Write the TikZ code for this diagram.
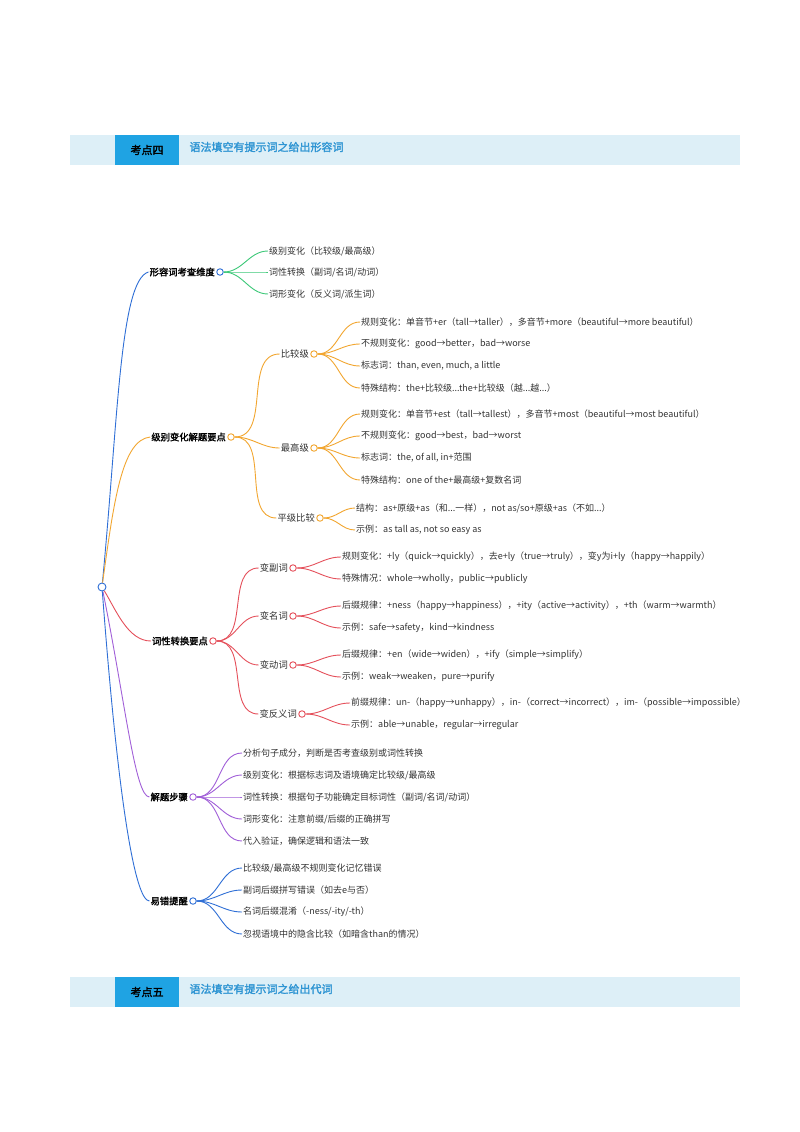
\documentclass[tikz,border=0pt]{standalone}
\usepackage{fontspec}
\setmainfont{Noto Sans CJK SC}
\newfontfamily\boldcjk[FakeBold=2]{Noto Sans CJK SC}
\definecolor{cGreen}{HTML}{3CC878}
\definecolor{cOrange}{HTML}{F2A630}
\definecolor{cRed}{HTML}{E5505B}
\definecolor{cPurple}{HTML}{A15FD8}
\definecolor{cBlue}{HTML}{2F6FD6}
\definecolor{barBg}{HTML}{DDEFF7}
\definecolor{tagBg}{HTML}{1FA3E3}
\definecolor{titleBlue}{HTML}{2F95D3}
\tikzset{
  txt/.style={anchor=west, inner sep=1pt, font=\fontsize{9}{10}\selectfont, text=black!80},
  head/.style={anchor=east, inner sep=1pt, font=\fontsize{9.3}{10}\selectfont, text=black!80},
  main/.style={anchor=east, inner sep=1pt, font=\fontsize{9.3}{10}\boldcjk, text=black},
  knot/.style={circle, draw, fill=white, line width=0.9pt, inner sep=0pt, minimum size=6.5pt},
  br/.style={line width=0.9pt}
}
\begin{document}
\begin{tikzpicture}[x=1pt, y=-1pt]
		\useasboundingbox[fill=white] (0,0) rectangle (800,1132);
		
		% Barras de título
		\fill[barBg] (70,135) rectangle (740,165);
		\node[fill=tagBg, minimum width=64pt, minimum height=30pt, inner sep=0pt, font=\fontsize{11}{12}\boldcjk] (tag4) at (147,150) {考点四};
		\node[anchor=west, text=titleBlue, font=\fontsize{11}{12}\boldcjk] (title4) at (186,147) {语法填空有提示词之给出形容词};
		\fill[barBg] (70,977) rectangle (740,1007);
		\node[fill=tagBg, minimum width=64pt, minimum height=30pt, inner sep=0pt, font=\fontsize{11}{12}\boldcjk] (tag5) at (147,992) {考点五};
		\node[anchor=west, text=titleBlue, font=\fontsize{11}{12}\boldcjk] (title5) at (186,989) {语法填空有提示词之给出代词};
		
		% Raiz
		\node[knot, draw=cBlue, minimum size=8pt] (root) at (102,587) {};
		
		% Nível 1
		\node[knot, draw=cBlue] (dim) at (220,272) {};
		\node[main] (dimT) at (216,272) {形容词考查维度};
		\node[knot, draw=cOrange] (deg) at (231,437) {};
		\node[main] (degT) at (227,437) {级别变化解题要点};
		\node[knot, draw=cRed] (pos) at (213,641) {};
		\node[main] (posT) at (209,641) {词性转换要点};
		\node[knot, draw=cPurple] (step) at (193,797) {};
		\node[main] (stepT) at (189,797) {解题步骤};
		\node[knot, draw=cBlue] (err) at (193,901) {};
		\node[main] (errT) at (189,901) {易错提醒};
		
		\draw[br, cBlue] (root) .. controls (118,420) and (120,280) .. (dimT.west);
		\draw[br, cOrange] (root) .. controls (114,500) and (122,440) .. (degT.west);
		\draw[br, cRed] (root) .. controls (116,610) and (128,641) .. (posT.west);
		\draw[br, cPurple] (root) .. controls (125,700) and (135,797) .. (stepT.west);
		\draw[br, cBlue] (root) .. controls (118,800) and (135,901) .. (errT.west);
		
		% Dimensões
		\node[txt] (d1) at (268,251) {级别变化（比较级/最高级）};
		\node[txt] (d2) at (268,272) {词性转换（副词/名词/动词）};
		\node[txt] (d3) at (268,294) {词形变化（反义词/派生词）};
		\foreach \n in {d1,d2,d3} \draw[br, cGreen] (dim.east) to[out=0,in=180] (\n.west);
		
		% Nível 2 — graus
		\node[knot, draw=cOrange] (cmp) at (314,354) {};
		\node[head] (cmpT) at (310,354) {比较级};
		\node[knot, draw=cOrange] (sup) at (314,448) {};
		\node[head] (supT) at (310,448) {最高级};
		\node[knot, draw=cOrange] (eq) at (320,518) {};
		\node[head] (eqT) at (316,518) {平级比较};
		\foreach \n in {cmpT,supT,eqT} \draw[br, cOrange] (deg.east) to[out=0,in=180] (\n.west);
		
		\node[txt] (c1) at (360,322) {规则变化：单音节+er（tall→taller），多音节+more（beautiful→more beautiful）};
		\node[txt] (c2) at (360,344) {不规则变化：good→better，bad→worse};
		\node[txt] (c3) at (360,366) {标志词：than, even, much, a little};
		\node[txt] (c4) at (360,388) {特殊结构：the+比较级...the+比较级（越...越...）};
		\foreach \n in {c1,c2,c3,c4} \draw[br, cOrange] (cmp.east) to[out=0,in=180] (\n.west);
		
		\node[txt] (s1) at (360,414) {规则变化：单音节+est（tall→tallest），多音节+most（beautiful→most beautiful）};
		\node[txt] (s2) at (360,436) {不规则变化：good→best，bad→worst};
		\node[txt] (s3) at (360,458) {标志词：the, of all, in+范围};
		\node[txt] (s4) at (360,480) {特殊结构：one of the+最高级+复数名词};
		\foreach \n in {s1,s2,s3,s4} \draw[br, cOrange] (sup.east) to[out=0,in=180] (\n.west);
		
		\node[txt] (e1) at (355,508) {结构：as+原级+as（和...一样），not as/so+原级+as（不如...）};
		\node[txt] (e2) at (355,530) {示例：as tall as, not so easy as};
		\foreach \n in {e1,e2} \draw[br, cOrange] (eq.east) to[out=0,in=180] (\n.west);
		
		% Nível 2 — classes
		\node[knot, draw=cRed] (adv) at (293,568) {};
		\node[head] (advT) at (289,568) {变副词};
		\node[knot, draw=cRed] (nou) at (293,616) {};
		\node[head] (nouT) at (289,616) {变名词};
		\node[knot, draw=cRed] (vrb) at (293,665) {};
		\node[head] (vrbT) at (289,665) {变动词};
		\node[knot, draw=cRed] (ant) at (302,714) {};
		\node[head] (antT) at (298,714) {变反义词};
		\foreach \n in {advT,nouT,vrbT,antT} \draw[br, cRed] (pos.east) to[out=0,in=180] (\n.west);
		
		\node[txt] (a1) at (341,557) {规则变化：+ly（quick→quickly），去e+ly（true→truly），变y为i+ly（happy→happily）};
		\node[txt] (a2) at (341,579) {特殊情况：whole→wholly，public→publicly};
		\foreach \n in {a1,a2} \draw[br, cRed] (adv.east) to[out=0,in=180] (\n.west);
		\node[txt] (n1) at (341,606) {后缀规律：+ness（happy→happiness），+ity（active→activity），+th（warm→warmth）};
		\node[txt] (n2) at (341,628) {示例：safe→safety，kind→kindness};
		\foreach \n in {n1,n2} \draw[br, cRed] (nou.east) to[out=0,in=180] (\n.west);
		\node[txt] (v1) at (341,655) {后缀规律：+en（wide→widen），+ify（simple→simplify）};
		\node[txt] (v2) at (341,677) {示例：weak→weaken，pure→purify};
		\foreach \n in {v1,v2} \draw[br, cRed] (vrb.east) to[out=0,in=180] (\n.west);
		\node[txt] (t1) at (350,703) {前缀规律：un-（happy→unhappy），in-（correct→incorrect），im-（possible→impossible）};
		\node[txt] (t2) at (350,725) {示例：able→unable，regular→irregular};
		\foreach \n in {t1,t2} \draw[br, cRed] (ant.east) to[out=0,in=180] (\n.west);
		
		% Passos
		\node[txt] (p1) at (242,753) {分析句子成分，判断是否考查级别或词性转换};
		\node[txt] (p2) at (242,775) {级别变化：根据标志词及语境确定比较级/最高级};
		\node[txt] (p3) at (242,797) {词性转换：根据句子功能确定目标词性（副词/名词/动词）};
		\node[txt] (p4) at (242,819) {词形变化：注意前缀/后缀的正确拼写};
		\node[txt] (p5) at (242,841) {代入验证，确保逻辑和语法一致};
		\foreach \n in {p1,p2,p3,p4,p5} \draw[br, cPurple] (step.east) to[out=0,in=180] (\n.west);
		
		% Erros
		\node[txt] (r1) at (242,868) {比较级/最高级不规则变化记忆错误};
		\node[txt] (r2) at (242,890) {副词后缀拼写错误（如去e与否）};
		\node[txt] (r3) at (242,912) {名词后缀混淆（-ness/-ity/-th）};
		\node[txt] (r4) at (242,934) {忽视语境中的隐含比较（如暗含than的情况）};
		\foreach \n in {r1,r2,r3,r4} \draw[br, cBlue] (err.east) to[out=0,in=180] (\n.west);
\end{tikzpicture}
\end{document}
